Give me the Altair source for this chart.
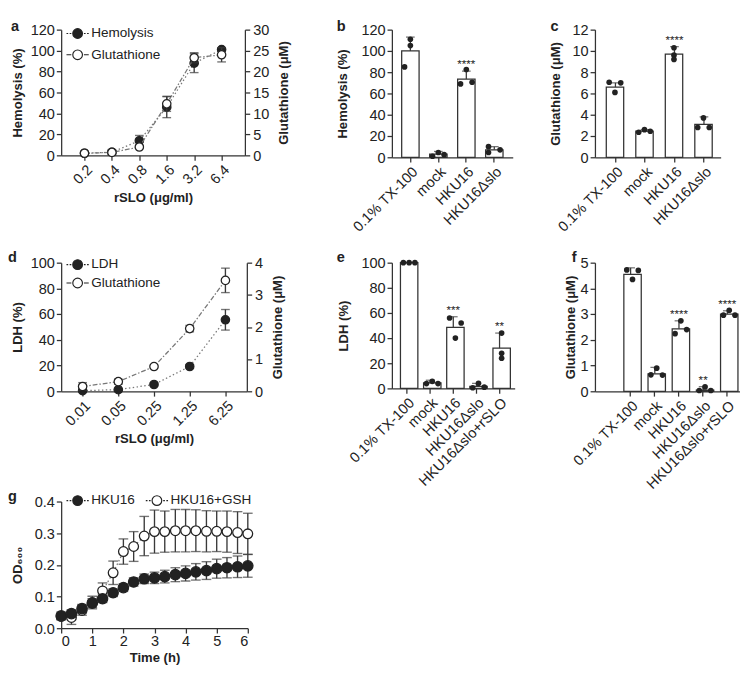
import altair as alt
import pandas as pd

FONT = "Liberation Sans"
INK = "#222222"
AXC = "#333333"
LINEC = "#777777"
ERRC = "#3a3a3a"

# ---------------- panel a ----------------
a_conc = ["0.2", "0.4", "0.8", "1.6", "3.2", "6.4"]
a_hemo = [2, 3, 14, 46, 88, 101]
a_hemo_sd = [1, 2.5, 5, 10, 9, 1]
a_glut = [0.5, 0.7, 2.0, 12.3, 23.3, 24.0]
a_glut_sd = [0.2, 0.3, 0.4, 1.8, 1.2, 1.7]

# ---------------- panels b / c ----------------
grp4 = ["0.1% TX-100", "mock", "HKU16", "HKU16Δslo"]
b_mean = [100, 3, 73.5, 7]
b_top = [113, 5.5, 81, 10]
b_pts = [[111, 105, 85], [1, 4.5, 2.5], [82.5, 69, 70.5], [10, 4.5, 7]]
b_pos = [["C", "C", "L"], ["L", "C", "R"], ["C", "L", "R"], ["L", "L", "R"]]
b_star = ["", "", "****", ""]

c_mean = [6.6, 2.45, 9.7, 3.1]
c_top = [7.0, 2.6, 10.4, 3.8]
c_pts = [[7.05, 7.0, 6.1], [2.35, 2.6, 2.45], [10.3, 9.6, 9.2], [2.8, 3.7, 2.8]]
c_pos = [["L", "R", "C"], ["L", "C", "R"], ["C", "C", "C"], ["L", "C", "R"]]
c_star = ["", "", "****", ""]

# ---------------- panel d ----------------
d_conc = ["0.01", "0.05", "0.25", "1.25", "6.25"]
d_ldh = [0.5, 1.3, 5.3, 19.3, 55.6]
d_ldh_sd = [0.5, 0.6, 1.0, 1.5, 8]
d_glut = [0.15, 0.3, 0.77, 1.95, 3.45]
d_glut_sd = [0.12, 0.08, 0.04, 0.1, 0.38]

# ---------------- panels e / f ----------------
grp5 = ["0.1% TX-100", "mock", "HKU16", "HKU16Δslo", "HKU16Δslo+rSLO"]
e_mean = [100, 4.3, 48.5, 1.7, 32]
e_top = [100, 6.5, 57, 4, 44]
e_pts = [[100, 100, 100], [3.8, 5.6, 3.8], [56, 52, 40], [0.5, 4, 1], [44, 28, 24]]
e_pos = [["L", "C", "R"], ["L", "C", "R"], ["L", "R", "C"], ["L", "C", "R"], ["C", "C", "C"]]
e_star = ["", "", "***", "", "**"]

f_mean = [4.55, 0.68, 2.43, 0.05, 3.0]
f_top = [4.8, 0.93, 2.74, 0.18, 3.13]
f_pts = [[4.72, 4.7, 4.35], [0.9, 0.64, 0.63], [2.74, 2.24, 2.4], [0.17, 0.03, 0.03], [3.15, 2.96, 2.96]]
f_pos = [["L", "R", "C"], ["C", "L", "R"], ["C", "L", "R"], ["C", "L", "R"], ["C", "L", "R"]]
f_star = ["", "", "****", "**", "****"]

# ---------------- panel g ----------------
g_time = [0, 0.33, 0.67, 1, 1.33, 1.67, 2, 2.33, 2.67, 3, 3.33, 3.67, 4, 4.33, 4.67, 5, 5.33, 5.67, 6]
g_hku = [0.039, 0.046, 0.062, 0.079, 0.093, 0.112, 0.128, 0.146, 0.156, 0.159, 0.163, 0.169,
         0.173, 0.178, 0.182, 0.188, 0.191, 0.194, 0.197]
g_hku_sd = [0.012, 0.012, 0.013, 0.014, 0.012, 0.012, 0.012, 0.013, 0.015, 0.018, 0.02, 0.022,
            0.024, 0.026, 0.028, 0.03, 0.032, 0.034, 0.036]
g_gsh = [0.037, 0.034, 0.056, 0.081, 0.118, 0.175, 0.242, 0.258, 0.291, 0.305, 0.305, 0.308,
         0.308, 0.308, 0.306, 0.306, 0.305, 0.302, 0.298]
g_gsh_sd = [0.01, 0.022, 0.015, 0.02, 0.025, 0.037, 0.04, 0.047, 0.062, 0.068, 0.065, 0.067,
            0.067, 0.066, 0.065, 0.064, 0.065, 0.066, 0.065]

DOT_PATH = ("M-2.3,0L-1.95,0M-1.65,0L-1.3,0M1.3,0L1.65,0M1.95,0L2.3,0"
            "M1,0A1,1,0,1,1,-1,0A1,1,0,1,1,1,0Z")
DASH_PATH = "M-2.3,0L-1.3,0M1.3,0L2.3,0M1,0A1,1,0,1,1,-1,0A1,1,0,1,1,1,0Z"

IND = dict(fill="independent", shape="independent", stroke="independent")


def letter_layer(letter, lx, ly):
    return alt.Chart(pd.DataFrame({"t": [letter]})).mark_text(
        font=FONT, fontSize=15, fontWeight="bold", color=INK, align="left", baseline="alphabetic"
    ).encode(text="t:N", x=alt.value(lx), y=alt.value(ly))


def spacer(sx, sy):
    # invisible layout spacer (keeps the panel offsets of the reference)
    return alt.Chart(pd.DataFrame({"t": ["."]})).mark_text(opacity=0, fontSize=8).encode(
        text="t:N", x=alt.value(sx), y=alt.value(sy))


def series_layer(xs, ys, sds, xenc, yscale, yaxis, filled, dash, cap_w, pt_size):
    d = pd.DataFrame({"x": xs, "y": ys, "sd": sds})
    d["lo"] = d["y"] - d["sd"]
    d["hi"] = d["y"] + d["sd"]
    base = alt.Chart(d).encode(x=xenc)

    def Y(f):
        return alt.Y(f + ":Q", scale=yscale, axis=yaxis)

    line = base.mark_line(color=LINEC, strokeWidth=1.3, strokeDash=dash).encode(y=Y("y"))
    rule = base.mark_rule(color=ERRC, strokeWidth=1.4).encode(y=Y("lo"), y2="hi:Q")
    cap1 = base.mark_tick(color=ERRC, orient="horizontal", size=cap_w, thickness=1.4).encode(y=Y("hi"))
    cap2 = base.mark_tick(color=ERRC, orient="horizontal", size=cap_w, thickness=1.4).encode(y=Y("lo"))
    pts = base.mark_circle(size=pt_size, opacity=1, fill=INK if filled else "white",
                           stroke=INK, strokeWidth=1.3).encode(y=Y("y"))
    return alt.layer(line, rule, cap1, cap2, pts)


def legend_layer(names, paths, fills, lx, ly, direction, row_pad, col_pad=16):
    ldf = pd.DataFrame({"s": names})
    leg = alt.Legend(title=None, orient="none", legendX=lx, legendY=ly, direction=direction,
                     labelFont=FONT, labelFontSize=14, labelColor=INK, symbolSize=100,
                     symbolStrokeWidth=1.2, labelOffset=7, gridAlign="none",
                     rowPadding=row_pad, columnPadding=col_pad, padding=0)
    # legend-only layer: its single point sits outside the clipped plot area
    return alt.Chart(ldf).mark_point(clip=True, opacity=1, strokeWidth=1.2).encode(
        x=alt.value(-200), y=alt.value(-200),
        fill=alt.Fill("s:N", scale=alt.Scale(domain=names, range=fills), legend=leg),
        stroke=alt.Stroke("s:N", scale=alt.Scale(domain=names, range=[INK, INK]), legend=leg),
        shape=alt.Shape("s:N", scale=alt.Scale(domain=names, range=paths), legend=leg),
    )


def dual_panel(conc, s1, s1sd, s2, s2sd, ymax1, step1, title1, ymax2, step2, title2,
               names, letter, width, height, pad, lxy, letter_xy, xtitle, tpad, row_pad):
    xenc = alt.X("x:O", sort=conc, scale=alt.Scale(type="point", padding=pad),
                 axis=alt.Axis(title=xtitle, labelAngle=-45, labelAlign="right", labelBaseline="top"))
    ax1 = alt.Axis(title=title1, values=list(range(0, ymax1 + 1, step1)), orient="left", titlePadding=tpad)
    ax2 = alt.Axis(title=title2, values=[v * step2 for v in range(0, int(ymax2 / step2) + 1)],
                   orient="right", titleAngle=270, titlePadding=22, labelPadding=3)
    sc1 = alt.Scale(domain=[0, ymax1], nice=False)
    sc2 = alt.Scale(domain=[0, ymax2], nice=False)
    l1 = series_layer(conc, s1, s1sd, xenc, sc1, ax1, True, [1.5, 2.5], 9, 75)
    l2 = series_layer(conc, s2, s2sd, xenc, sc2, ax2, False, [5, 2, 1.5, 2], 9, 75)
    leg = legend_layer(names, [DOT_PATH, DASH_PATH], [INK, "white"], lxy[0], lxy[1], "vertical", row_pad)
    return alt.layer(l1, l2, leg, letter_layer(letter, *letter_xy)).resolve_scale(
        y="independent").properties(width=width, height=height)


def bar_panel(groups, means, tops, pts, pos, stars, ymax, step, title, letter, width, height,
              pin, pout, align, letter_xy, tpad, left_gap=0):
    df = pd.DataFrame({"group": groups, "mean": means, "top": tops, "star": stars})
    rows = []
    for g, vals, ps in zip(groups, pts, pos):
        for v, p in zip(vals, ps):
            rows.append({"group": g, "val": v, "pos": p})
    dfp = pd.DataFrame(rows)
    xenc = alt.X("group:N", sort=groups,
                 scale=alt.Scale(paddingInner=pin, paddingOuter=pout, align=align),
                 axis=alt.Axis(title=None, labelAngle=-45, labelAlign="right", labelBaseline="top"))
    ysc = alt.Scale(domain=[0, ymax], nice=False)
    nt = int(round(ymax / step))
    yax = alt.Axis(title=title, values=[round(i * step, 6) for i in range(nt + 1)], titlePadding=tpad)

    def Y(f):
        return alt.Y(f + ":Q", scale=ysc, axis=yax)

    bars = alt.Chart(df).mark_bar(fill="white", stroke=AXC, strokeWidth=1.3).encode(x=xenc, y=Y("mean"))
    err = alt.Chart(df).mark_rule(color=ERRC, strokeWidth=1.3).encode(x=xenc, y=Y("mean"), y2="top:Q")
    cap = alt.Chart(df).mark_tick(color=ERRC, orient="horizontal", size=9, thickness=1.3).encode(
        x=xenc, y=Y("top"))
    dots = alt.Chart(dfp).mark_circle(size=34, color=INK, opacity=1).encode(
        x=xenc, xOffset=alt.XOffset("pos:N", scale=alt.Scale(domain=["L", "C", "R"])), y=Y("val"))
    star = alt.Chart(df).mark_text(font=FONT, fontSize=12, color=INK, dy=-3, baseline="alphabetic").encode(
        x=xenc, y=Y("top"), text="star:N")
    layers = [bars, err, cap, dots, star, letter_layer(letter, *letter_xy)]
    if left_gap:
        layers.append(spacer(-left_gap, height / 2))
    return alt.layer(*layers).properties(width=width, height=height)


def g_panel():
    xenc = alt.X("x:Q", scale=alt.Scale(domain=[0, 6], nice=False),
                 axis=alt.Axis(title="Time (h)", values=list(range(7)), labelAngle=0,
                               labelPadding=1, titlePadding=2))
    ysc = alt.Scale(domain=[0, 0.4], nice=False)
    yax = alt.Axis(title="OD₆₀₀", values=[0, 0.1, 0.2, 0.3, 0.4], format=".1f", titlePadding=10)
    l1 = series_layer(g_time, g_hku, g_hku_sd, xenc, ysc, yax, True, [1.5, 2.5], 10, 115)
    l2 = series_layer(g_time, g_gsh, g_gsh_sd, xenc, ysc, yax, False, [1.5, 2.5], 10, 100)
    leg = legend_layer(["HKU16", "HKU16+GSH"], [DOT_PATH, DOT_PATH], [INK, "white"], 10, -8,
                       "horizontal", 4, col_pad=8)
    return alt.layer(l2, l1, leg, letter_layer("g", -55, -1)).properties(width=193, height=131)


pa = dual_panel(a_conc, a_hemo, a_hemo_sd, a_glut, a_glut_sd, 120, 20, "Hemolysis (%)", 30, 5,
                "Glutathione (μM)", ["Hemolysis", "Glutathione"], "a", 190, 130, 0.85,
                (10, -3), (-52, 1), "rSLO (μg/ml)", 6, 6)
pd_ = dual_panel(d_conc, d_ldh, d_ldh_sd, d_glut, d_glut_sd, 100, 20, "LDH (%)", 4, 1,
                 "Glutathione (μM)", ["LDH", "Glutathione"], "d", 192, 133, 0.6,
                 (10, -5), (-55, -1), "rSLO (μg/ml)", 6, 3)
pb = bar_panel(grp4, b_mean, b_top, b_pts, b_pos, b_star, 120, 20, "Hemolysis (%)", "b", 125, 132,
               0.38, 0.35, 0.5, (-57, 1), 12, left_gap=101)
pc = bar_panel(grp4, c_mean, c_top, c_pts, c_pos, c_star, 12, 2, "Glutathione (μM)", "c", 130, 132,
               0.38, 0.32, 0.6, (-46, 1), 10, left_gap=79)
pe = bar_panel(grp5, e_mean, e_top, e_pts, e_pos, e_star, 100, 20, "LDH (%)", "e", 127, 130,
               0.43, 0.37, 0.5, (-57, -1), 11, left_gap=101)
pf = bar_panel(grp5, f_mean, f_top, f_pts, f_pos, f_star, 5, 1, "Glutathione (μM)", "f", 150, 133,
               0.44, 0.72, 0.83, (-24, -1), 3)
pg = g_panel()


def cell(*charts, spacing=0):
    return alt.vconcat(*charts, spacing=spacing).resolve_scale(**IND)


chart = alt.concat(
    cell(pa), cell(pb), cell(pc), cell(pd_, pg, spacing=45), cell(pe), cell(pf),
    columns=3, align="each", bounds="full",
    spacing={"row": 16, "column": 2},
).resolve_scale(**IND).properties(padding=0).configure_axis(
    labelFont=FONT, labelFontSize=15, labelColor=INK, titleFont=FONT, titleFontSize=13.5,
    titleFontWeight="bold", titleColor=INK, domainColor=AXC, tickColor=AXC, domainWidth=1.3,
    tickWidth=1.3, tickSize=5, grid=False, labelPadding=2
).configure_view(stroke=None).configure_text(font=FONT)

chart.save("out.html", embed_options={"renderer": "svg", "actions": False})
